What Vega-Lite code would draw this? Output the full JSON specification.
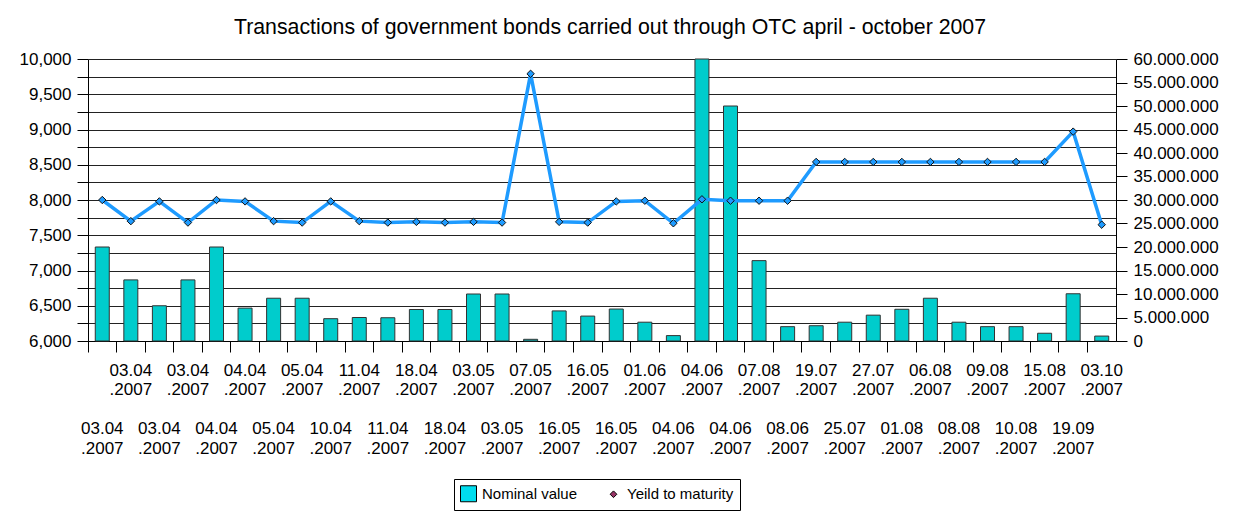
{
  "$schema": "https://vega.github.io/schema/vega-lite/v6.json",
  "width": 1028,
  "height": 282,
  "padding": {"left": 19, "top": 16, "right": 0, "bottom": 0},
  "background": "white",
  "title": {
    "text": "Transactions of government bonds carried out through OTC april - october 2007",
    "font": "Liberation Sans",
    "fontSize": 21.3,
    "fontWeight": "normal",
    "color": "black",
    "anchor": "middle",
    "offset": 12,
    "dx": 8
  },
  "config": {
    "view": {"stroke": null},
    "font": "Liberation Sans"
  },
  "data": {
    "values": [
      {"id": "01|03.04.2007", "nominal": 20000000, "ytm": 8.00},
      {"id": "02|03.04.2007", "nominal": 13000000, "ytm": 7.70},
      {"id": "03|03.04.2007", "nominal": 7500000, "ytm": 7.98},
      {"id": "04|03.04.2007", "nominal": 13000000, "ytm": 7.68},
      {"id": "05|04.04.2007", "nominal": 20000000, "ytm": 8.00},
      {"id": "06|04.04.2007", "nominal": 7000000, "ytm": 7.98},
      {"id": "07|05.04.2007", "nominal": 9100000, "ytm": 7.70},
      {"id": "08|05.04.2007", "nominal": 9100000, "ytm": 7.68},
      {"id": "09|10.04.2007", "nominal": 4750000, "ytm": 7.98},
      {"id": "10|11.04.2007", "nominal": 5000000, "ytm": 7.70},
      {"id": "11|11.04.2007", "nominal": 4950000, "ytm": 7.68},
      {"id": "12|18.04.2007", "nominal": 6700000, "ytm": 7.69},
      {"id": "13|18.04.2007", "nominal": 6700000, "ytm": 7.68},
      {"id": "14|03.05.2007", "nominal": 10000000, "ytm": 7.69},
      {"id": "15|03.05.2007", "nominal": 10000000, "ytm": 7.68},
      {"id": "16|07.05.2007", "nominal": 360000, "ytm": 9.79},
      {"id": "17|16.05.2007", "nominal": 6400000, "ytm": 7.69},
      {"id": "18|16.05.2007", "nominal": 5300000, "ytm": 7.68},
      {"id": "19|16.05.2007", "nominal": 6800000, "ytm": 7.98},
      {"id": "20|01.06.2007", "nominal": 4000000, "ytm": 7.99},
      {"id": "21|04.06.2007", "nominal": 1150000, "ytm": 7.67},
      {"id": "22|04.06.2007", "nominal": 60000000, "ytm": 8.01},
      {"id": "23|04.06.2007", "nominal": 50000000, "ytm": 7.99},
      {"id": "24|07.08.2007", "nominal": 17100000, "ytm": 7.99},
      {"id": "25|08.06.2007", "nominal": 3050000, "ytm": 7.99},
      {"id": "26|19.07.2007", "nominal": 3250000, "ytm": 8.54},
      {"id": "27|25.07.2007", "nominal": 4000000, "ytm": 8.54},
      {"id": "28|27.07.2007", "nominal": 5500000, "ytm": 8.54},
      {"id": "29|01.08.2007", "nominal": 6750000, "ytm": 8.54},
      {"id": "30|06.08.2007", "nominal": 9100000, "ytm": 8.54},
      {"id": "31|08.08.2007", "nominal": 4000000, "ytm": 8.54},
      {"id": "32|09.08.2007", "nominal": 3050000, "ytm": 8.54},
      {"id": "33|10.08.2007", "nominal": 3050000, "ytm": 8.54},
      {"id": "34|15.08.2007", "nominal": 1650000, "ytm": 8.54},
      {"id": "35|19.09.2007", "nominal": 10050000, "ytm": 8.97},
      {"id": "36|03.10.2007", "nominal": 1050000, "ytm": 7.65}
    ]
  },
  "encoding": {
    "x": {
      "field": "id",
      "type": "nominal",
      "sort": null,
      "scale": {"paddingInner": 0, "paddingOuter": 0},
      "axis": {
        "title": null,
        "labelAngle": 0,
        "labelOverlap": false,
        "labelFont": "Liberation Sans",
        "labelFontSize": 17,
        "labelColor": "black",
        "labelLineHeight": 19.5,
        "labelBaseline": "top",
        "labelPadding": 10,
        "bandPosition": 0,
        "tickSize": 11,
        "tickColor": "black",
        "domainColor": "black",
        "grid": false,
        "labelExpr": "toNumber(split(datum.value,'|')[0]) % 2 == 1 ? ['\u200b', '\u200b', '\u200b', slice(split(datum.value,'|')[1],0,5), slice(split(datum.value,'|')[1],5)] : [slice(split(datum.value,'|')[1],0,5), slice(split(datum.value,'|')[1],5), '\u200b', '\u200b', '\u200b']"
      }
    }
  },
  "layer": [
    {
      "mark": {"type": "bar", "fill": "#00CCCC", "stroke": "#333333", "strokeWidth": 1, "size": 14},
      "encoding": {
        "y": {
          "field": "nominal",
          "type": "quantitative",
          "scale": {"domain": [0, 60000000], "nice": false},
          "axis": {
            "orient": "right",
            "title": null,
            "grid": false,
            "values": [0, 5000000, 10000000, 15000000, 20000000, 25000000, 30000000, 35000000, 40000000, 45000000, 50000000, 55000000, 60000000],
            "labelExpr": "replace(replace(format(datum.value, ','), ',', '.'), ',', '.')",
            "labelFont": "Liberation Sans",
            "labelFontSize": 17,
            "labelColor": "black",
            "labelPadding": 6,
            "tickSize": 11,
            "tickColor": "black",
            "domainColor": "black"
          }
        }
      }
    },
    {
      "encoding": {
        "y": {
          "field": "ytm",
          "type": "quantitative",
          "scale": {"domain": [6, 10], "nice": false, "zero": false},
          "axis": {
            "orient": "left",
            "title": null,
            "grid": true,
            "gridColor": "#222222",
            "gridWidth": 1,
            "values": [6, 6.25, 6.5, 6.75, 7, 7.25, 7.5, 7.75, 8, 8.25, 8.5, 8.75, 9, 9.25, 9.5, 9.75, 10],
            "labelExpr": "(datum.value * 2) % 1 == 0 ? replace(format(datum.value, '.3f'), '.', ',') : ''",
            "labelFont": "Liberation Sans",
            "labelFontSize": 17,
            "labelColor": "black",
            "labelPadding": 6,
            "tickSize": 11,
            "tickColor": "black",
            "domainColor": "black"
          }
        }
      },
      "layer": [
        {"mark": {"type": "line", "stroke": "#1E9BFF", "strokeWidth": 3.5}},
        {"mark": {"type": "point", "shape": "diamond", "filled": true, "fill": "#1E9BFF", "stroke": "#111111", "strokeWidth": 1, "size": 55, "opacity": 1}}
      ]
    },
    {
      "data": {"values": [{"s": "Nominal value"}, {"s": "Yeild to maturity"}]},
      "mark": {"type": "point", "filled": true, "clip": true, "opacity": 1, "stroke": "black", "strokeWidth": 1},
      "encoding": {
        "x": {"datum": "01|03.04.2007"},
        "y": {"datum": 0, "type": "quantitative", "scale": {"domain": [1, 2]}, "axis": null},
        "fill": {
          "field": "s",
          "type": "nominal",
          "scale": {"domain": ["Nominal value", "Yeild to maturity"], "range": ["#00DDEE", "#993366"]},
          "legend": {
            "orient": "none",
            "legendX": 366,
            "legendY": 420,
            "direction": "horizontal",
            "columns": 2,
            "columnPadding": 27,
            "title": null,
            "padding": 6,
            "strokeColor": "black",
            "fillColor": "white",
            "labelFont": "Liberation Sans",
            "labelFontSize": 15,
            "labelColor": "black",
            "labelOffset": 5,
            "symbolOpacity": 1,
            "symbolStrokeColor": "black",
            "symbolStrokeWidth": 1
          }
        },
        "shape": {
          "field": "s",
          "type": "nominal",
          "scale": {"domain": ["Nominal value", "Yeild to maturity"], "range": ["square", "diamond"]}
        },
        "size": {
          "field": "s",
          "type": "nominal",
          "scale": {"domain": ["Nominal value", "Yeild to maturity"], "range": [256, 45]}
        }
      }
    }
  ],
  "resolve": {"scale": {"y": "independent"}}
}
